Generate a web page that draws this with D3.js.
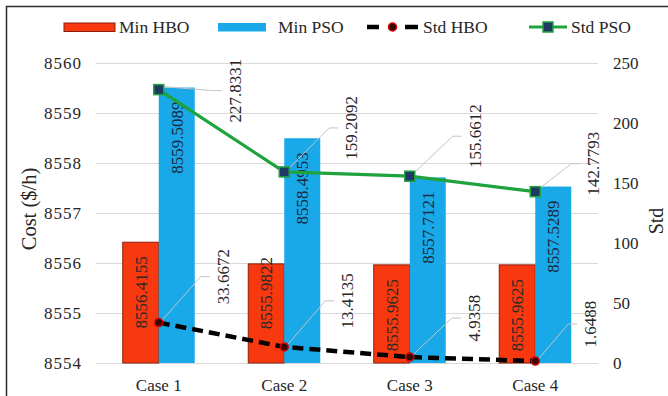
<!DOCTYPE html>
<html>
<head>
<meta charset="utf-8">
<script src="https://cdn.jsdelivr.net/npm/d3@7"></script>
</head>
<body style="margin:0;background:#fff">
<svg id="chart" width="668" height="396" font-family="Liberation Serif" style="display:block"></svg>
<script>
// ---- data ----
const cases = ["Case 1", "Case 2", "Case 3", "Case 4"];
const minHBO = [8556.4155, 8555.9822, 8555.9625, 8555.9625];
const minPSO = [8559.5089, 8558.4953, 8557.7121, 8557.5289];
const stdHBO = [33.6672, 13.4135, 4.9358, 1.6488];
const stdPSO = [227.8331, 159.2092, 155.6612, 142.7793];
const costTicks = [8554, 8555, 8556, 8557, 8558, 8559, 8560];
const stdTicks = [0, 50, 100, 150, 200, 250];

// ---- layout ----
const FONT = "Liberation Serif";
const plot = { left: 96, right: 598, top: 63, bottom: 363 };
const barW = 36;
const colors = {
  hbo: "#f8380f", hboEdge: "#8a1c0c",
  pso: "#19a9e9",
  green: "#1fa33d", navy: "#1f3864",
  grid: "#d9d9d9", leader: "#c4c4c4", text: "#262626"
};
// callout placement for the Std labels (offset of label centre from its marker)
const psoCallout = [[76, 1], [67, -44], [65, -40], [58, -28]];
const hboCallout = [[64, -46], [63, -46], [64, -39], [55, -37]];
// manual nudge of the Min HBO bar labels along the bar
const hboLabelNudge = [0, -21, 0, 0];

const svg = d3.select("#chart");

function label(parent, size) {
  return parent.append("text")
    .attr("font-family", FONT)
    .style("font-family", FONT)
    .attr("font-size", size)
    .attr("fill", colors.text);
}

// outer frame
svg.append("rect")
  .attr("x", 6.5).attr("y", 6.5)
  .attr("width", 700).attr("height", 420)
  .attr("fill", "none").attr("stroke", "#2b2b2b").attr("stroke-width", 1.5);

const x0 = d3.scaleBand().domain(cases).range([plot.left, plot.right]).padding(0);
const yCost = d3.scaleLinear().domain([8554, 8560]).range([plot.bottom, plot.top]);
const yStd = d3.scaleLinear().domain([0, 250]).range([plot.bottom, plot.top]);
const cx = c => x0(c) + x0.bandwidth() / 2;

function styleAxisText(g, size) {
  g.attr("font-family", FONT).attr("font-size", size);
  g.selectAll("text")
    .attr("font-family", FONT).style("font-family", FONT)
    .attr("font-size", size).attr("fill", colors.text);
}

// gridlines
svg.append("g")
  .attr("transform", `translate(${plot.left},0)`)
  .call(d3.axisLeft(yCost).tickValues(costTicks).tickSize(-(plot.right - plot.left)).tickFormat(""))
  .call(g => g.select(".domain").remove())
  .call(g => g.selectAll("line").attr("stroke", colors.grid).attr("stroke-width", 1));

// left axis labels
svg.append("g")
  .attr("transform", `translate(82,0)`)
  .call(d3.axisLeft(yCost).tickValues(costTicks).tickSize(0).tickPadding(0).tickFormat(d3.format("d")))
  .call(g => g.select(".domain").remove())
  .call(g => styleAxisText(g, 17))
  .call(g => g.selectAll("text").attr("letter-spacing", 1));

// right axis labels
svg.append("g")
  .attr("transform", `translate(613,0)`)
  .call(d3.axisRight(yStd).tickValues(stdTicks).tickSize(0).tickPadding(0))
  .call(g => g.select(".domain").remove())
  .call(g => styleAxisText(g, 17));

// category labels
svg.append("g")
  .attr("transform", `translate(0,${plot.bottom})`)
  .call(d3.axisBottom(x0).tickSize(0).tickPadding(0))
  .call(g => g.select(".domain").remove())
  .call(g => styleAxisText(g, 17))
  .call(g => g.selectAll("text").attr("dy", null).attr("y", 28));

// axis titles
label(svg, 20.5)
  .attr("transform", `translate(36,209) rotate(-90)`)
  .attr("text-anchor", "middle")
  .text("Cost ($/h)");
label(svg, 20)
  .attr("transform", `translate(663,221) rotate(-90)`)
  .attr("text-anchor", "middle")
  .text("Std");

// bars
const bars = svg.append("g");
bars.selectAll(".hbo").data(cases).join("rect")
  .attr("x", c => cx(c) - barW)
  .attr("y", (c, i) => yCost(minHBO[i]))
  .attr("width", barW)
  .attr("height", (c, i) => plot.bottom - yCost(minHBO[i]))
  .attr("fill", colors.hbo).attr("stroke", colors.hboEdge).attr("stroke-width", 1);
bars.selectAll(".pso").data(cases).join("rect")
  .attr("x", c => cx(c))
  .attr("y", (c, i) => yCost(minPSO[i]))
  .attr("width", barW)
  .attr("height", (c, i) => plot.bottom - yCost(minPSO[i]))
  .attr("fill", colors.pso);

// bar value labels (rotated, inside end)
const barLabels = svg.append("g");
cases.forEach((c, i) => {
  const ty = yCost(minHBO[i]) + 14 + hboLabelNudge[i];
  label(barLabels, 17)
    .attr("transform", `translate(${cx(c) - barW / 2},${ty}) rotate(-90)`)
    .attr("text-anchor", "end").attr("dy", "0.35em")
    .attr("fill", "#2a2a2a")
    .text(minHBO[i].toFixed(4));
  const tp = yCost(minPSO[i]) + 14;
  label(barLabels, 17)
    .attr("transform", `translate(${cx(c) + barW / 2},${tp}) rotate(-90)`)
    .attr("text-anchor", "end").attr("dy", "0.35em")
    .attr("fill", "#1c2a40")
    .text(minPSO[i].toFixed(4));
});

// leader lines + callouts for the Std series
function callouts(values, offsets) {
  const g = svg.append("g");
  cases.forEach((c, i) => {
    const mx = cx(c), my = yStd(values[i]);
    const lx = mx + offsets[i][0], ly = my + offsets[i][1];
    const edge = lx - 13;
    const elbow = edge - 9;
    g.append("path")
      .attr("d", d3.line()([[mx + 4, my - 3], [elbow, ly], [edge, ly]]))
      .attr("fill", "none").attr("stroke", colors.leader).attr("stroke-width", 1);
    label(g, 17)
      .attr("transform", `translate(${lx},${ly}) rotate(-90)`)
      .attr("text-anchor", "middle").attr("dy", "0.35em")
      .text(values[i].toFixed(4));
  });
}
callouts(stdPSO, psoCallout);
callouts(stdHBO, hboCallout);

// Std PSO line
const linePSO = d3.line().x((d, i) => cx(cases[i])).y(d => yStd(d));
svg.append("path")
  .datum(stdPSO)
  .attr("d", linePSO)
  .attr("fill", "none").attr("stroke", colors.green).attr("stroke-width", 3.2);
svg.append("g").selectAll("rect").data(stdPSO).join("rect")
  .attr("x", (d, i) => cx(cases[i]) - 5)
  .attr("y", d => yStd(d) - 5)
  .attr("width", 10).attr("height", 10)
  .attr("fill", colors.navy).attr("stroke", colors.green).attr("stroke-width", 1.5);

// Std HBO line
const lineHBO = d3.line().x((d, i) => cx(cases[i])).y(d => yStd(d));
svg.append("path")
  .datum(stdHBO)
  .attr("d", lineHBO)
  .attr("fill", "none").attr("stroke", "#000").attr("stroke-width", 4.5)
  .attr("stroke-dasharray", "11,6");
svg.append("g").selectAll("circle").data(stdHBO).join("circle")
  .attr("cx", (d, i) => cx(cases[i]))
  .attr("cy", d => yStd(d))
  .attr("r", 4)
  .attr("fill", "#3a0505").attr("stroke", "#d40000").attr("stroke-width", 1.5);

// legend
const lg = svg.append("g");
const ly0 = 27;
lg.append("rect").attr("x", 64).attr("y", 23).attr("width", 51).attr("height", 8.5)
  .attr("fill", colors.hbo).attr("stroke", colors.hboEdge).attr("stroke-width", 1);
label(lg, 17.5).attr("x", 119).attr("y", ly0).attr("dy", "0.35em").text("Min HBO");
lg.append("rect").attr("x", 218).attr("y", 23).attr("width", 48).attr("height", 8.5)
  .attr("fill", colors.pso);
label(lg, 17.5).attr("x", 278).attr("y", ly0).attr("dy", "0.35em").text("Min PSO");
[[367, 379], [405, 418]].forEach(([a, b]) => {
  lg.append("line").attr("x1", a).attr("x2", b).attr("y1", ly0).attr("y2", ly0)
    .attr("stroke", "#000").attr("stroke-width", 4.5);
});
lg.append("circle").attr("cx", 392.5).attr("cy", ly0).attr("r", 4)
  .attr("fill", "#3a0505").attr("stroke", "#d40000").attr("stroke-width", 1.5);
label(lg, 17.5).attr("x", 423).attr("y", ly0).attr("dy", "0.35em").text("Std HBO");
lg.append("line").attr("x1", 529).attr("x2", 567).attr("y1", ly0).attr("y2", ly0)
  .attr("stroke", colors.green).attr("stroke-width", 3.2);
lg.append("rect").attr("x", 543).attr("y", ly0 - 5).attr("width", 10).attr("height", 10)
  .attr("fill", colors.navy).attr("stroke", colors.green).attr("stroke-width", 1.5);
label(lg, 17.5).attr("x", 571).attr("y", ly0).attr("dy", "0.35em").text("Std PSO");
</script>
</body>
</html>
